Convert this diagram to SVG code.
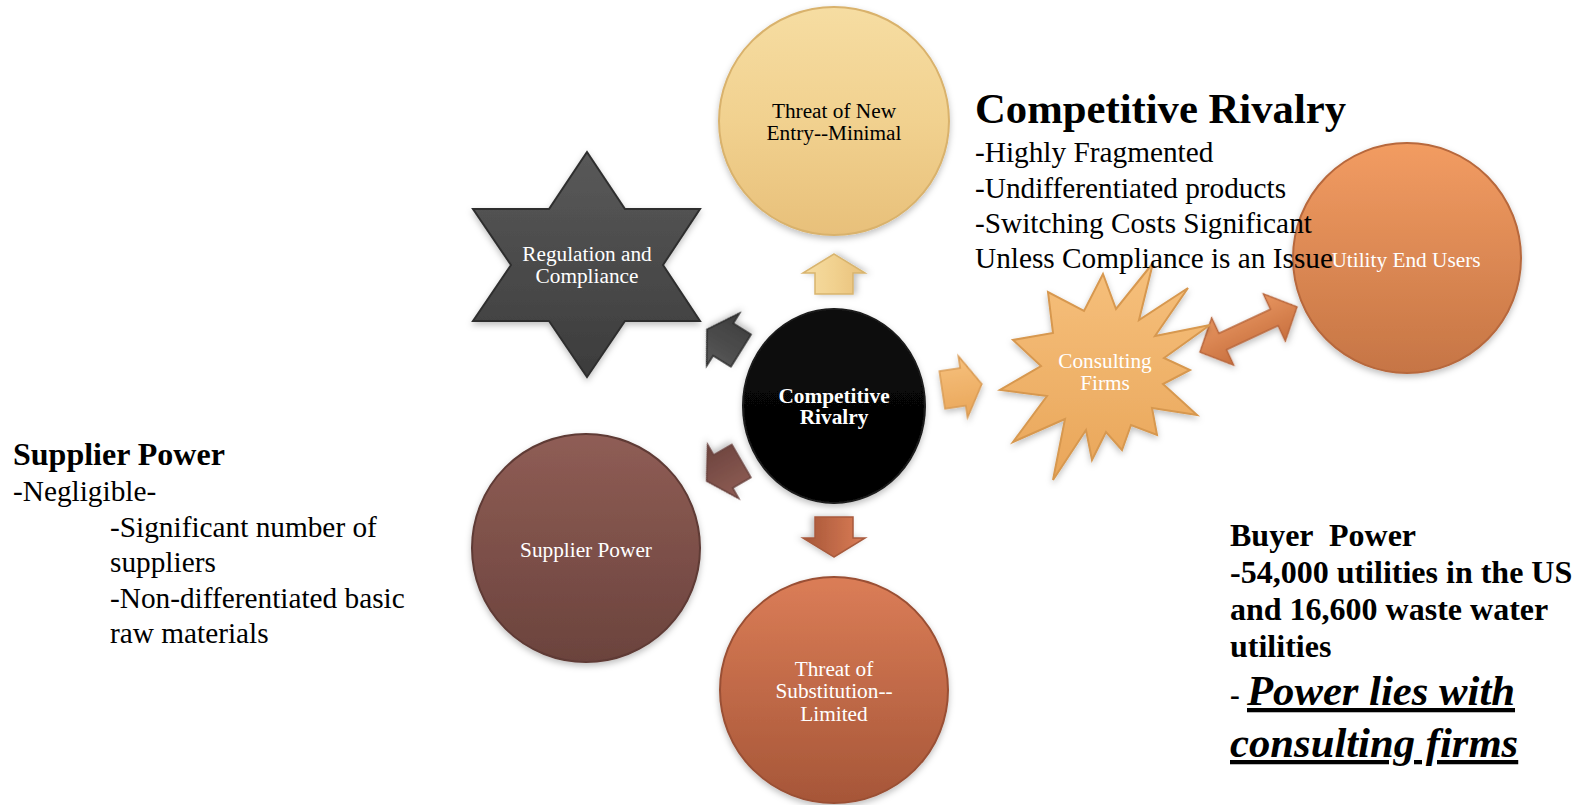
<svg xmlns="http://www.w3.org/2000/svg" width="1581" height="805" viewBox="0 0 1581 805">
<style>
.serif{font-family:"Liberation Serif","Times New Roman",serif}
.node{font-family:"Liberation Serif","Times New Roman",serif;font-size:21.3px;text-anchor:middle}
.w{fill:#ffffff}
.k{fill:#000000}
.note{font-family:"Liberation Serif","Times New Roman",serif;font-size:29.3px;fill:#000}
.bnote{font-family:"Liberation Serif","Times New Roman",serif;font-size:32px;font-weight:bold;fill:#000}
.shape{filter:url(#sh)}
</style>
<defs>
<filter id="sh" x="-20%" y="-20%" width="140%" height="140%">
<feDropShadow dx="0" dy="3" stdDeviation="3" flood-color="#000" flood-opacity="0.25"/>
</filter>
<linearGradient id="gYel" x1="0" y1="0" x2="0" y2="1"><stop offset="0" stop-color="#f6dda2"/><stop offset="0.5" stop-color="#f1d18f"/><stop offset="1" stop-color="#e8c07a"/></linearGradient>
<linearGradient id="gGray" x1="0" y1="0" x2="0" y2="1"><stop offset="0" stop-color="#595959"/><stop offset="1" stop-color="#3c3c3c"/></linearGradient>
<linearGradient id="gBlk" x1="0" y1="0" x2="0" y2="1"><stop offset="0" stop-color="#0c0c0c"/><stop offset="1" stop-color="#000"/></linearGradient>
<linearGradient id="gBrn" x1="0" y1="0" x2="0" y2="1"><stop offset="0" stop-color="#8f5d55"/><stop offset="1" stop-color="#6b433d"/></linearGradient>
<linearGradient id="gRust" x1="0" y1="0" x2="0" y2="1"><stop offset="0" stop-color="#db7d57"/><stop offset="1" stop-color="#a65638"/></linearGradient>
<linearGradient id="gOrg" x1="0" y1="0" x2="0" y2="1"><stop offset="0" stop-color="#f6c07c"/><stop offset="1" stop-color="#e9a65a"/></linearGradient>
<linearGradient id="gUtil" x1="0" y1="0" x2="0" y2="1"><stop offset="0" stop-color="#f29c62"/><stop offset="1" stop-color="#c67545"/></linearGradient>
<linearGradient id="gDbl" x1="0" y1="0" x2="0" y2="1"><stop offset="0" stop-color="#e79560"/><stop offset="1" stop-color="#c8703f"/></linearGradient>
<path id="arr" d="M20 0 L1 -31 L1 -19 L-20 -19 L-20 19 L1 19 L1 31 Z"/>
</defs>

<g id="connectors">
<use href="#arr" transform="translate(834,274) rotate(-90)" fill="url(#gYel)" stroke="#d8b46e" stroke-width="1.5" class="shape"/>
<use href="#arr" transform="translate(724,340) rotate(-148)" fill="url(#gGray)" stroke="#2e2e2e" stroke-width="1.5" class="shape"/>
<use href="#arr" transform="translate(962,387) rotate(-8.5)" fill="url(#gOrg)" stroke="#d99a52" stroke-width="1.5" class="shape"/>
<use href="#arr" transform="translate(724,471) rotate(150)" fill="url(#gBrn)" stroke="#6a423c" stroke-width="1.5" class="shape"/>
<use href="#arr" transform="translate(834,537) rotate(90)" fill="url(#gRust)" stroke="#a85a3c" stroke-width="1.5" class="shape"/>
<path d="M53.5 0 L28.5 -26 L28.5 -9 L-28.5 -9 L-28.5 -26 L-53.5 0 L-28.5 26 L-28.5 9 L28.5 9 L28.5 26 Z" transform="translate(1248.5,329.5) rotate(-25)" fill="url(#gDbl)" stroke="#b8653a" stroke-width="1.5" class="shape"/>
</g>

<g id="node-new-entry">
<ellipse cx="834" cy="121" rx="115" ry="114" fill="url(#gYel)" stroke="#d9b26c" stroke-width="2" class="shape"/>
<text class="node k" x="834" y="118">Threat of New</text>
<text class="node k" x="834" y="140">Entry--Minimal</text>
</g>

<g id="node-regulation">
<path d="M587,152 L625,209 L700,209 L663,265 L700,321 L625,321 L587,377 L549,321 L473,321 L511,265 L473,209 L549,209 Z" fill="url(#gGray)" stroke="#2f2f2f" stroke-width="2" class="shape"/>
<text class="node w" x="587" y="261">Regulation and</text>
<text class="node w" x="587" y="283">Compliance</text>
</g>

<g id="node-rivalry">
<ellipse cx="834" cy="406" rx="91" ry="97" fill="url(#gBlk)" stroke="#1a1a1a" stroke-width="2" class="shape"/>
<text class="node w" x="834" y="403" font-weight="bold">Competitive</text>
<text class="node w" x="834" y="424" font-weight="bold">Rivalry</text>
</g>

<g id="node-supplier">
<ellipse cx="586" cy="548" rx="114" ry="114" fill="url(#gBrn)" stroke="#5e3a35" stroke-width="2" class="shape"/>
<text class="node w" x="586" y="557">Supplier Power</text>
</g>

<g id="node-substitution">
<ellipse cx="834" cy="690" rx="114" ry="113" fill="url(#gRust)" stroke="#9a5034" stroke-width="2" class="shape"/>
<text class="node w" x="834" y="676">Threat of</text>
<text class="node w" x="834" y="698">Substitution--</text>
<text class="node w" x="834" y="721">Limited</text>
</g>

<g id="node-consulting">
<path d="M1103,274 L1116,309 L1153,263 L1139,320 L1188,288 L1155,336 L1210,325 L1164,358 L1190,370 L1163,384 L1197,415 L1152,408 L1157,435 L1131,425 L1122,450 L1106,432 L1092,460 L1086,430 L1053,480 L1065,419 L1013,442 L1047,396 L1000,390 L1041,366 L1013,340 L1053,333 L1048,292 L1084,311 Z" fill="url(#gOrg)" stroke="#d7984f" stroke-width="2" class="shape"/>
<text class="node w" x="1105" y="368">Consulting</text>
<text class="node w" x="1105" y="390">Firms</text>
</g>

<g id="node-utility">
<ellipse cx="1407" cy="258" rx="114" ry="115" fill="url(#gUtil)" stroke="#b7683c" stroke-width="2" class="shape"/>
</g>

<g id="rivalry-notes">
<text class="serif" x="975" y="123" font-size="42.7" font-weight="bold">Competitive Rivalry</text>
<text class="note" x="975" y="162">-Highly Fragmented</text>
<text class="note" x="975" y="197.5">-Undifferentiated products</text>
<text class="note" x="975" y="233">-Switching Costs Significant</text>
<text class="note" x="975" y="268">Unless Compliance is an Issue</text>
</g>

<g id="node-utility-label">
<text class="node w" x="1406" y="267">Utility End Users</text>
</g>

<g id="supplier-notes">
<text class="bnote" x="13" y="465">Supplier Power</text>
<text class="note" x="13" y="501">-Negligible-</text>
<text class="note" x="110" y="536.5">-Significant number of</text>
<text class="note" x="110" y="572">suppliers</text>
<text class="note" x="110" y="608">-Non-differentiated basic</text>
<text class="note" x="110" y="643">raw materials</text>
</g>

<g id="buyer-notes">
<text class="bnote" x="1230" y="545.5" xml:space="preserve">Buyer  Power</text>
<text class="bnote" x="1230" y="583">-54,000 utilities in the US</text>
<text class="bnote" x="1230" y="620">and 16,600 waste water</text>
<text class="bnote" x="1230" y="657">utilities</text>
<text class="serif" x="1230" y="705" font-size="29.3" font-weight="bold">-</text>
<text class="serif" x="1247" y="705" font-size="42.7" font-weight="bold" font-style="italic" text-decoration="underline">Power lies with</text>
<text class="serif" x="1230" y="757" font-size="42.7" font-weight="bold" font-style="italic" text-decoration="underline">consulting firms</text>
</g>
</svg>
